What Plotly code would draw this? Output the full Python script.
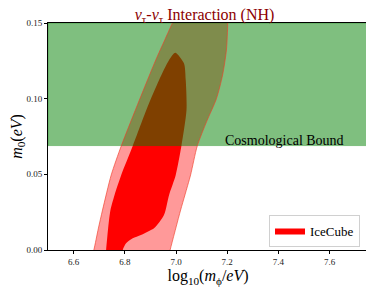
import plotly.graph_objects as go

# ---- data ----
# outer (lighter) IceCube region, closed polygon: log10(m_phi/eV), m0 (eV)
outer_log_mphi = [6.665, 6.679, 6.697, 6.713, 6.747, 6.786, 6.857, 6.921, 6.956, 6.986, 7.010,
                  7.200, 7.202, 7.197, 7.182, 7.158, 7.120, 7.083, 7.057, 7.035, 7.018, 6.977, 6.965]
outer_m0 = [-0.008, 0.0, 0.0145, 0.0264, 0.0496, 0.0687, 0.0991, 0.1256, 0.1388, 0.150, 0.158,
            0.160, 0.150, 0.1322, 0.1156, 0.100, 0.085, 0.0687, 0.0496, 0.0364, 0.0264, 0.0, -0.008]

# inner (solid) IceCube region
inner_log_mphi = [6.722, 6.727, 6.735, 6.744, 6.760, 6.786, 6.831, 6.889, 6.934, 6.973, 6.997,
                  7.031, 7.038, 7.041, 7.021, 6.999, 6.973, 6.953, 6.915, 6.863, 6.831, 6.805, 6.792, 6.788]
inner_m0 = [-0.008, 0.0, 0.0145, 0.0264, 0.0364, 0.0496, 0.0687, 0.0947, 0.1124, 0.1256, 0.1304,
            0.1234, 0.1124, 0.0925, 0.0687, 0.0496, 0.0364, 0.0231, 0.0145, 0.0099, 0.0077, 0.0044, 0.0, -0.008]

cosmo_bound = 0.069          # eV
x_range = [6.5, 7.75]
y_range = [0.0, 0.15]
x_ticks = [6.6, 6.8, 7.0, 7.2, 7.4, 7.6]
y_ticks = [0.00, 0.05, 0.10, 0.15]
y_tick_text = ["0.00", "0.05", "0.10", "0.15"]

SERIF = "Liberation Serif, Times New Roman, serif"

fig = go.Figure()

fig.add_trace(go.Scatter(
    x=outer_log_mphi, y=outer_m0, mode="lines", fill="toself",
    fillcolor="rgba(255,0,0,0.4)", line=dict(width=0, shape="spline", smoothing=0.7),
    showlegend=False, hoverinfo="skip"))

fig.add_trace(go.Scatter(
    x=inner_log_mphi, y=inner_m0, mode="lines", fill="toself",
    fillcolor="rgb(255,0,0)", line=dict(width=0, shape="spline", smoothing=0.7),
    name="IceCube", showlegend=True, hoverinfo="skip"))

fig.add_trace(go.Scatter(
    x=[x_range[0], x_range[1], x_range[1], x_range[0], x_range[0]],
    y=[cosmo_bound, cosmo_bound, y_range[1], y_range[1], cosmo_bound],
    mode="lines", fill="toself", fillcolor="rgba(0,128,0,0.5)",
    line=dict(width=1, color="rgba(0,128,0,0.35)"),
    showlegend=False, hoverinfo="skip"))

fig.add_trace(go.Scatter(
    x=outer_log_mphi, y=outer_m0, mode="lines",
    line=dict(width=0.8, color="rgba(240,60,40,0.8)", shape="spline", smoothing=0.7),
    showlegend=False, hoverinfo="skip"))

fig.add_annotation(
    x=7.425, y=cosmo_bound, xref="x", yref="y", text="Cosmological Bound",
    showarrow=False, yanchor="bottom", yshift=-4,
    font=dict(family=SERIF, size=14, color="black"))

# the page body adds an 8px offset; the figure is sized so the plot lands where the reference has it
fig.update_layout(
    width=366, height=284,
    margin=dict(l=40, r=6, t=15, b=42, autoexpand=False),
    paper_bgcolor="white", plot_bgcolor="white",
    title=dict(
        text="<i>ν</i><sub>τ</sub>-<i>ν</i><sub>τ</sub> Interaction (NH)",
        x=0.537, xanchor="center", y=0.977, yanchor="middle",
        font=dict(family=SERIF, size=16, color="#8B0000")),
    legend=dict(
        x=0.975, xanchor="right", y=0.015, yanchor="bottom",
        bgcolor="white", bordercolor="#d0d0d0", borderwidth=1,
        font=dict(family=SERIF, size=13, color="black")),
    xaxis=dict(
        range=x_range, tickvals=x_ticks, ticktext=[f"{v:.1f}" for v in x_ticks],
        automargin=False,
        showgrid=False, zeroline=False, showline=True, linecolor="black", linewidth=1,
        mirror=True, ticks="outside", ticklen=3, tickcolor="black",
        tickfont=dict(family=SERIF, size=9, color="#222"),
        title=dict(text="log<sub>10</sub>(<i>m</i><sub>ϕ</sub>/<i>eV</i>)",
                   font=dict(family=SERIF, size=16, color="black"), standoff=4)),
    yaxis=dict(
        range=y_range, tickvals=y_ticks, ticktext=y_tick_text,
        automargin=False,
        showgrid=False, zeroline=False, showline=True, linecolor="black", linewidth=1,
        mirror=True, ticks="outside", ticklen=3, tickcolor="black",
        tickfont=dict(family=SERIF, size=9, color="#222"),
        title=dict(text="<i>m</i><sub>0</sub>(<i>eV</i>)",
                   font=dict(family=SERIF, size=16, color="black"), standoff=6)),
)

fig.write_html("out.html")
